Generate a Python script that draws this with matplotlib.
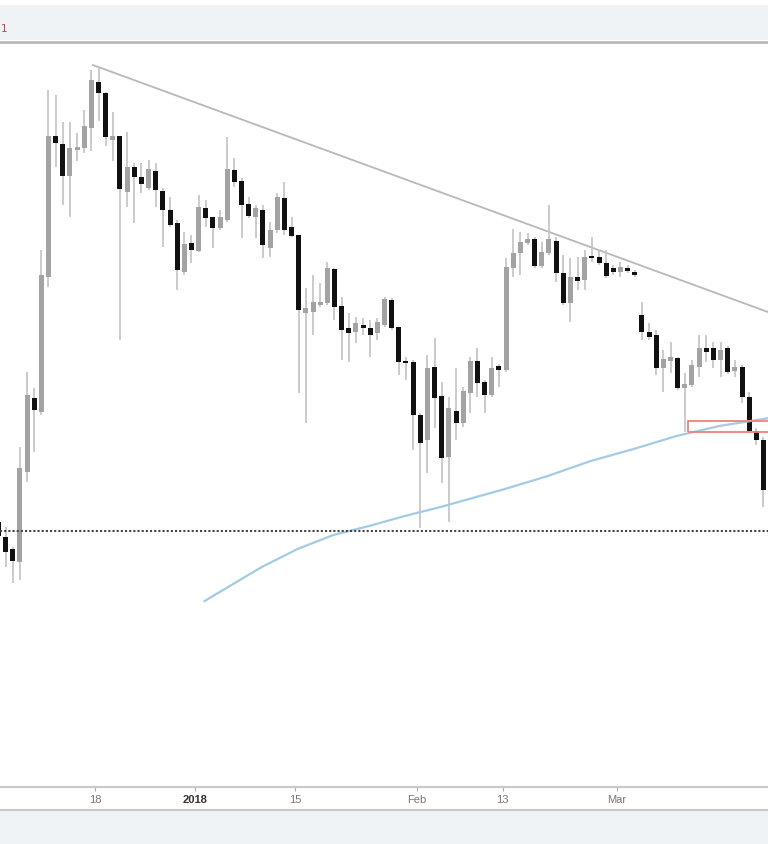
import numpy as np
import pandas as pd
import matplotlib
matplotlib.use("Agg")
import matplotlib.pyplot as plt
import matplotlib.dates as mdates
from matplotlib.patches import Rectangle
from matplotlib.lines import Line2D

# daily candles, 2017-12-04 .. 2018-03-21 (price index)
opens = [278, 263, 251, 238, 328, 402, 388, 523, 664, 656, 624, 650, 652, 672, 718, 707, 660, 664,
         608, 633, 623, 612, 629, 609, 590, 577, 528, 557, 549, 592, 583, 572, 580, 630, 619, 596,
         583, 590, 552, 570, 602, 573, 565, 487, 488, 495, 497, 531, 494, 472, 468, 475, 472, 467,
         475, 500, 473, 439, 438, 385, 360, 433, 404, 343, 389, 377, 407, 439, 418, 405, 434, 430,
         532, 547, 557, 561, 534, 547, 559, 527, 497, 523, 520, 543, 543, 537, 532, 528, 532, 528,
         485, 468, 465, 432, 439, 442, 412, 415, 433, 452, 452, 440, 452, 429, 433, 403, 369, 360]
highs = [285, 273, 253, 353, 428, 412, 550, 710, 705, 678, 678, 667, 690, 730, 733, 708, 688, 664,
         668, 637, 637, 640, 637, 612, 603, 580, 568, 565, 605, 600, 583, 590, 663, 642, 622, 603,
         595, 595, 578, 607, 618, 583, 565, 512, 525, 517, 538, 532, 503, 487, 483, 482, 480, 482,
         503, 502, 473, 443, 440, 387, 445, 462, 418, 403, 432, 413, 443, 452, 420, 443, 436, 542,
         571, 568, 567, 563, 558, 595, 563, 545, 542, 543, 550, 563, 550, 550, 535, 538, 535, 530,
         498, 477, 470, 450, 458, 443, 427, 440, 465, 465, 458, 458, 454, 440, 435, 408, 372, 363]
lows = [260, 233, 217, 220, 318, 348, 385, 513, 633, 595, 583, 639, 647, 649, 679, 654, 639, 460,
        593, 577, 607, 610, 593, 553, 573, 510, 525, 537, 548, 573, 552, 570, 578, 613, 562, 582,
        562, 542, 543, 567, 565, 563, 407, 377, 465, 493, 495, 480, 440, 438, 457, 465, 443, 460,
        473, 470, 425, 420, 350, 272, 327, 372, 317, 278, 360, 373, 387, 403, 387, 403, 413, 428,
        523, 525, 555, 532, 532, 545, 518, 495, 478, 510, 510, 538, 535, 522, 525, 523, 527, 523,
        460, 460, 425, 408, 427, 410, 368, 413, 423, 438, 432, 423, 426, 423, 397, 368, 355, 293]
closes = [264, 248, 239, 332, 405, 390, 525, 664, 657, 624, 652, 653, 674, 720, 707, 663, 664, 611,
          633, 623, 616, 631, 610, 590, 575, 530, 556, 550, 593, 582, 572, 583, 631, 618, 595, 584,
          592, 555, 570, 603, 570, 564, 490, 492, 498, 498, 532, 493, 470, 467, 477, 472, 465, 478,
          501, 472, 438, 437, 385, 357, 432, 402, 342, 392, 377, 409, 439, 417, 405, 432, 430, 533,
          547, 558, 561, 534, 548, 561, 527, 497, 523, 519, 543, 542, 537, 524, 528, 533, 529, 525,
          468, 463, 432, 441, 443, 412, 416, 435, 452, 448, 440, 450, 428, 433, 403, 369, 360, 310]
# candles sit at mid-day
dates = pd.date_range("2017-12-04 12:00", periods=len(opens), freq="D")

# 200-day moving average, read at a few days
ma_dates = pd.to_datetime(["2018-01-02 08:00", "2018-01-06 08:00", "2018-01-10 08:00",
                           "2018-01-15 08:00", "2018-01-20 08:00", "2018-01-25 08:00",
                           "2018-01-30 08:00", "2018-02-04 08:00", "2018-02-09 08:00",
                           "2018-02-13 08:00", "2018-02-19 08:00", "2018-02-25 08:00",
                           "2018-03-03 08:00", "2018-03-09 08:00", "2018-03-15 08:00",
                           "2018-03-22 08:00"])
ma_values = [199, 216, 233, 251, 265, 274, 284, 293, 303, 311, 324, 339, 351, 364, 374, 382]

# descending trendline from the December high
trend_dates = pd.to_datetime(["2017-12-17 17:00", "2018-03-22 12:00"])
trend_values = [735, 487]

support_level = 269
box_start = pd.Timestamp("2018-03-10 22:30")
box_low, box_high = 368, 379

tick_dates = pd.to_datetime(["2017-12-18", "2018-01-01", "2018-01-15",
                             "2018-02-01", "2018-02-13", "2018-03-01"])
tick_labels = ["18", "2018", "15", "Feb", "13", "Mar"]

fig = plt.figure(figsize=(7.68, 8.44), dpi=100)
fig.patch.set_facecolor("white")
H = 844.0

# header / footer bands of the cropped chart window
fig.add_artist(Rectangle((0, (H - 40) / H), 1, 35 / H, transform=fig.transFigure,
                         facecolor="#f0f3f6", edgecolor="none", zorder=0))
fig.add_artist(Rectangle((0, 0), 1, (H - 811) / H, transform=fig.transFigure,
                         facecolor="#eff3f6", edgecolor="none", zorder=0))
fig.add_artist(Line2D([0, 1], [(H - 810) / H] * 2, transform=fig.transFigure,
                      color="#c8c8c8", lw=1.5))
fig.text(0.001, (H - 29) / H, "1", color="#d04040", fontsize=7.5, va="center", ha="left")

ax = fig.add_axes([0, (H - 787) / H, 1, (787 - 42) / H])
x = mdates.date2num(dates.to_pydatetime())
o = np.array(opens, float)
c = np.array(closes, float)
up = c >= o

ax.vlines(x, lows, highs, color="#c2c2c2", lw=1.2, zorder=2)
body_h = np.maximum(np.abs(c - o), 1.8)
ax.bar(x[up], body_h[up], bottom=np.minimum(o, c)[up], width=0.7,
       color="#a3a3a3", edgecolor="none", zorder=3)
ax.bar(x[~up], body_h[~up], bottom=np.minimum(o, c)[~up], width=0.7,
       color="#111111", edgecolor="none", zorder=3)

ax.plot(trend_dates, trend_values, color="#b8b8b8", lw=1.3, zorder=1)
ax.plot(ma_dates, ma_values, color="#a3cbe4", lw=1.6, zorder=4)
ax.axhline(support_level, color="#444444", lw=1.5, linestyle=(0, (1, 1)), zorder=4)
bx = mdates.date2num(box_start)
ax.add_patch(Rectangle((bx, box_low), 30, box_high - box_low, facecolor="none",
                       edgecolor="#f08080", lw=1.3, zorder=5))

x0 = mdates.date2num(pd.Timestamp("2017-12-05"))
ax.set_xlim(x0 - 0.28, x0 + 107.13)
ax.set_ylim(13, 758)
ax.set_yticks([])
ax.set_xticks(mdates.date2num(tick_dates.to_pydatetime()))
ax.set_xticklabels(tick_labels)
ax.tick_params(axis="x", length=3, width=0.8, color="#aaaaaa", pad=3)
for lab in ax.get_xticklabels():
    lab.set_family(["Liberation Sans Narrow", "Liberation Sans", "DejaVu Sans"])
    lab.set_fontsize(8)
    if lab.get_text() == "2018":
        lab.set_color("#333333")
        lab.set_fontweight("bold")
    else:
        lab.set_color("#777777")

for side in ["left", "right"]:
    ax.spines[side].set_visible(False)
ax.spines["top"].set_color("#b8b8b8")
ax.spines["top"].set_linewidth(2)
ax.spines["bottom"].set_color("#c8c8c8")
ax.spines["bottom"].set_linewidth(1.5)

fig.savefig("out.png", dpi=100)
